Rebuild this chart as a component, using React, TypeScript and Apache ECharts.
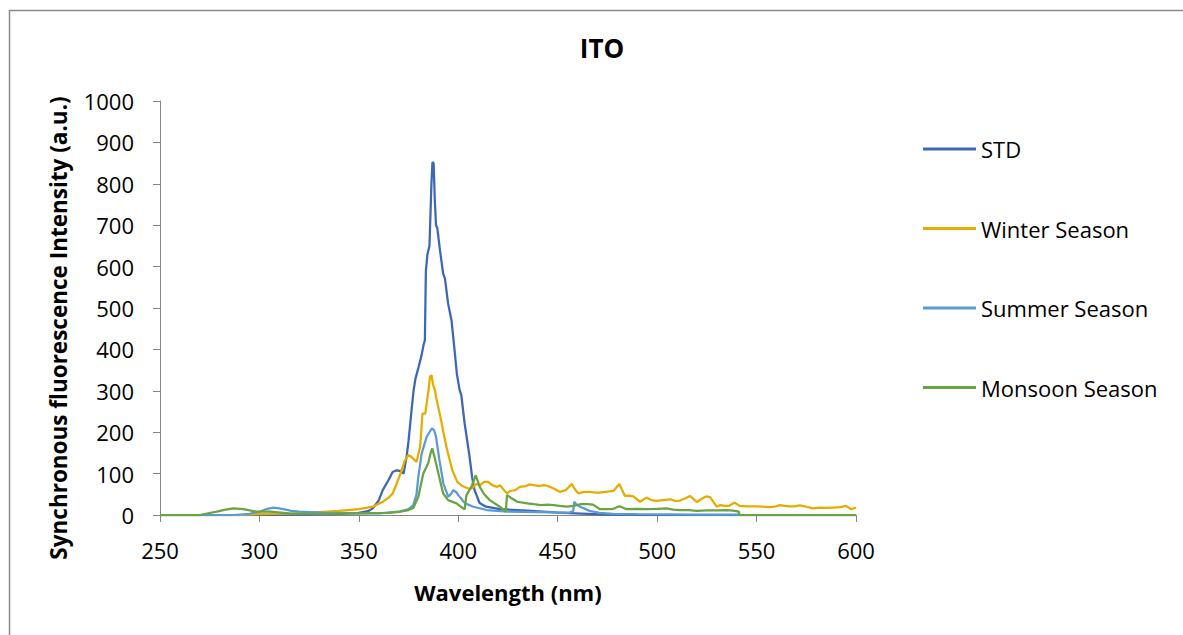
import React, { useEffect, useRef } from "react";
import * as echarts from "echarts";

const seriesNames = ["STD", "Winter Season", "Summer Season", "Monsoon Season"];
const seriesColors = ["#3D66B5", "#E6AC00", "#5B9BD5", "#6AA341"];

const xTicks = [250, 300, 350, 400, 450, 500, 550, 600];
const yAxisTitle = "Synchronous fluorescence Intensity (a.u.)";

const stdData: number[][] = [
  [250, 0], [300, 0], [320, 1], [340, 3], [350, 5], [355, 10], [357, 16], [360, 35], [362, 60],
  [365, 85], [367, 104], [369, 108], [371, 106], [372.5, 100], [374, 140], [375, 180], [376.5, 253],
  [377.5, 300], [378.5, 330], [380, 357], [381.5, 385], [382.5, 410], [383.2, 422], [383.7, 590],
  [384.5, 630], [385.5, 650], [386.5, 800], [387, 852], [387.6, 850], [388.2, 760], [388.8, 700],
  [389.5, 692], [390.8, 639], [392.4, 583], [393.3, 571], [394.9, 510], [396.6, 470], [398.3, 390],
  [399.3, 340], [400.7, 301], [401.5, 290], [403.2, 221], [405.7, 140], [407, 90], [408.2, 60],
  [410.7, 29], [414, 20], [421, 14], [437, 10], [450, 6], [465, 3], [475, 1], [490, 0], [600, 0],
];

const winterData: number[][] = [
  [250, 0], [290, 0], [300, 2], [320, 4], [340, 10], [350, 14], [357, 20], [362, 32], [365, 42],
  [367, 52], [369, 75], [371.5, 108], [373, 130], [374.8, 145], [376.5, 140], [379, 128], [380.8, 165],
  [382, 245], [383.4, 245], [384.1, 269], [385, 300], [385.8, 335], [386.6, 337], [387.3, 315],
  [388.3, 301], [388.8, 285], [391, 237], [392.5, 200], [394.4, 157], [397, 108], [399.5, 80],
  [402, 70], [405, 64], [407, 65], [409, 75], [411, 72], [413, 80], [415, 80], [417, 72], [419.5, 68],
  [421, 72], [423, 60], [424.6, 52], [426, 58], [428.7, 60], [431, 68], [434, 70], [436, 74], [438, 72],
  [441, 70], [443, 72], [445, 70], [448, 64], [451, 56], [454, 60], [457, 75], [459, 60], [460.5, 52],
  [463, 56], [466, 56], [469, 54], [471, 54], [474, 56], [478, 58], [481, 75], [483.8, 46], [486, 47],
  [488, 45], [491.4, 32], [494.7, 42], [497, 36], [499.8, 34], [503, 36], [506.5, 38], [509, 34],
  [511.5, 35], [514, 40], [516.6, 46], [520, 31], [522, 38], [524.6, 45], [526.6, 43], [530, 20],
  [531.7, 24], [534, 22], [536, 22], [539, 30], [541.5, 22], [545, 21], [550, 21], [553, 20],
  [556.7, 19], [559, 20], [561.7, 24], [564, 22], [566.7, 21], [569, 21], [571.7, 23], [575, 20],
  [578.4, 16], [582, 18], [585, 17], [588.4, 18], [592, 19], [595, 22], [597.6, 14], [600, 18],
];

const summerData: number[][] = [
  [250, 0], [287, 0], [295, 3], [300, 8], [304, 15], [307, 18], [310, 16], [312, 14], [316, 10],
  [320, 8], [332, 6], [350, 4], [360, 4], [370.6, 8], [375, 14], [377.4, 24], [379, 50], [379.9, 92],
  [381.6, 149], [384.1, 189], [386.7, 209], [387.8, 205], [388.8, 189], [390.5, 133], [392.5, 76],
  [395, 44], [396.5, 52], [397.5, 60], [399, 55], [400, 48], [403.4, 28], [407.6, 20], [414.3, 12],
  [424.4, 8], [440, 7], [456, 6], [457.8, 10], [458.3, 32], [459.5, 25], [461.3, 20], [466, 10],
  [471, 5], [478, 3], [490, 2], [520, 1], [541, 1], [542, 0], [600, 0],
];

const monsoonData: number[][] = [
  [250, 0], [270, 0], [278.5, 8], [283, 13], [286.9, 16], [291.9, 14], [298.6, 8], [305.3, 8],
  [315, 4], [330, 3], [350, 4], [365, 5], [370.6, 8], [375, 12], [377.4, 17], [379.9, 44],
  [382.4, 100], [384.9, 125], [386.1, 150], [386.9, 161], [388.2, 137], [390.4, 92], [392.4, 52],
  [394.9, 36], [399.1, 28], [402.4, 16], [403.2, 14], [404.1, 48], [406.6, 68], [408.8, 96],
  [410.8, 68], [413, 50], [415.8, 36], [420.9, 20], [423.9, 8], [424.5, 48], [427, 40], [429.6, 32],
  [434.7, 28], [438, 26], [441.4, 24], [445, 25], [448, 24], [451, 22], [454.5, 20], [458, 22],
  [461.3, 26], [465.2, 26], [467.7, 25], [471.3, 14], [475, 14], [478, 15], [481, 21], [484.7, 14],
  [490, 15], [494.7, 14], [500, 15], [504.7, 16], [508, 13], [511.5, 12], [516, 12], [520, 10],
  [525, 11], [530, 11], [534.8, 12], [537, 11], [539, 10], [541, 8], [541.5, 0], [600, 0],
];

const allData = [stdData, winterData, summerData, monsoonData];

const FONT = "'Open Sans', 'Noto Sans', sans-serif";

export default function App() {
  const ref = useRef<HTMLDivElement>(null);
  useEffect(() => {
    document.body.style.margin = "0";
    const chart = echarts.init(ref.current!, null, { renderer: "svg" });
    chart.setOption({
      animation: false,
      backgroundColor: "#ffffff",
      title: {
        text: "ITO",
        left: 597,
        top: 30,
        textAlign: "center",
        textStyle: { fontFamily: FONT, fontSize: 26, fontWeight: "bold", color: "#000" },
      },
      graphic: [
        {
          type: "rect",
          left: 7,
          top: 8,
          shape: { width: 1200, height: 700 },
          style: { fill: "none", stroke: "#8a8a8a", lineWidth: 1.5 },
          silent: true,
        },
        {
          type: "text",
          x: 58,
          y: 328,
          rotation: Math.PI / 2,
          silent: true,
          style: {
            text: yAxisTitle,
            align: "center",
            verticalAlign: "middle",
            fontFamily: FONT,
            fontSize: 22.5,
            fontWeight: "bold",
            fill: "#000",
          },
        },
      ],
      legend: {
        orient: "vertical",
        left: 918,
        top: 133,
        itemWidth: 53,
        itemHeight: 3,
        itemGap: 57.5,
        icon: "rect",
        data: seriesNames,
        textStyle: { fontFamily: FONT, fontSize: 22, color: "#000", lineHeight: 22 },
      },
      grid: { left: 160, right: 327, top: 101, bottom: 120 },
      xAxis: {
        type: "value",
        min: 250,
        max: 600,
        interval: 50,
        name: "Wavelength (nm)",
        nameLocation: "middle",
        nameGap: 66,
        nameTextStyle: { fontFamily: FONT, fontSize: 22, fontWeight: "bold", color: "#000" },
        axisLine: { show: true, lineStyle: { color: "#868686", width: 1 } },
        axisTick: { show: true, length: 7, lineStyle: { color: "#868686" } },
        axisLabel: {
          fontFamily: FONT,
          fontSize: 22,
          color: "#000",
          margin: 24,
          formatter: (v: number) => (xTicks.includes(v) ? String(v) : ""),
        },
        splitLine: { show: false },
      },
      yAxis: {
        type: "value",
        min: 0,
        max: 1000,
        interval: 100,
        axisLine: { show: true, lineStyle: { color: "#868686", width: 1 } },
        axisTick: { show: true, length: 7, lineStyle: { color: "#868686" } },
        axisLabel: {
          fontFamily: FONT,
          fontSize: 22,
          color: "#000",
          margin: 26,
          formatter: (v: number) => String(v),
        },
        splitLine: { show: false },
      },
      series: seriesNames.map((name, i) => ({
        name,
        type: "line",
        data: allData[i],
        showSymbol: false,
        symbol: "none",
        smooth: false,
        color: seriesColors[i],
        lineStyle: { color: seriesColors[i], width: 2.25 },
      })),
    });
    return () => chart.dispose();
  }, []);
  return <div ref={ref} style={{ width: 1183, height: 635 }} />;
}
